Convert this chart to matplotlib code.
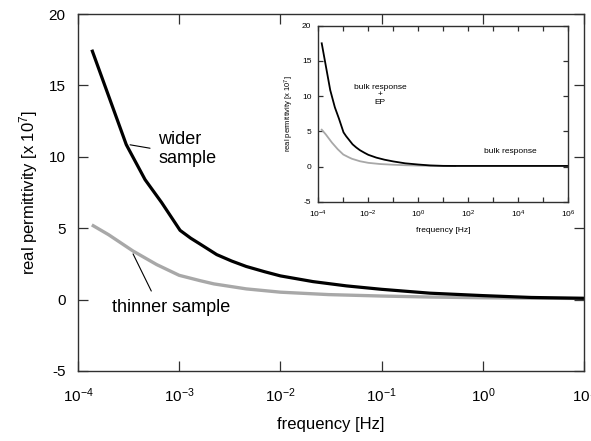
import numpy as np
import matplotlib
matplotlib.use("Agg")
import matplotlib.pyplot as plt
from matplotlib.ticker import FixedLocator, NullLocator, FuncFormatter

plt.rcParams['font.family'] = ['Liberation Sans', 'DejaVu Sans']
plt.rcParams['mathtext.fontset'] = 'custom'
plt.rcParams['mathtext.rm'] = 'Liberation Sans'
plt.rcParams['mathtext.it'] = 'Liberation Sans'
plt.rcParams['axes.unicode_minus'] = False

# ---- data ----
wide_freq = [1.37e-4, 3.0e-4, 4.6e-4, 6.7e-4, 1.02e-3, 1.3e-3, 1.6e-3, 2.35e-3,
             3.3e-3, 4.6e-3, 7e-3, 1e-2, 2.1e-2, 4.5e-2, 0.1, 0.3, 1.0, 3.0, 10.0]
wide_val = [17.5, 10.85, 8.4, 6.8, 4.85, 4.3, 3.9, 3.15,
            2.7, 2.32, 1.95, 1.66, 1.26, 0.96, 0.72, 0.45, 0.28, 0.15, 0.09]

thin_freq = [1.37e-4, 2.0e-4, 3.5e-4, 6.0e-4, 1e-3, 1.6e-3, 2.2e-3, 4.6e-3,
             1e-2, 3e-2, 0.1, 0.3, 1.0, 3.0, 10.0]
thin_val = [5.23, 4.55, 3.4, 2.45, 1.7, 1.33, 1.1, 0.75,
            0.52, 0.35, 0.25, 0.18, 0.13, 0.10, 0.08]

# inset continuation beyond 10 Hz
wide_ext_freq = [30.0, 1e2, 1e3, 1e4, 1e5, 1e6]
wide_ext_val = [0.08, 0.08, 0.08, 0.08, 0.08, 0.08]
thin_ext_freq = [30.0]
thin_ext_val = [0.07]

main_yticks = [-5, 0, 5, 10, 15, 20]
main_xticks = [1e-4, 1e-3, 1e-2, 1e-1, 1e0, 1e1]
inset_xticks = [10.0 ** k for k in range(-4, 7)]

W, H = 591, 441
fig = plt.figure(figsize=(W / 100, H / 100), dpi=100)

def px_axes(l, t, r, b):
    return fig.add_axes([l / W, 1 - b / H, (r - l) / W, (b - t) / H])

spine_col = '#303030'
black = '#000000'
gray = '#a8a8a8'

# ---- main axes ----
ax = px_axes(78, 14, 584, 371)
ax.set_xscale('log')
ax.plot(thin_freq, thin_val, color=gray, lw=2.4, solid_capstyle='butt')
ax.plot(wide_freq, wide_val, color=black, lw=2.3, solid_capstyle='butt')
ax.set_xlim(1e-4, 10)
ax.set_ylim(-5, 20)
ax.xaxis.set_major_locator(FixedLocator(main_xticks))
ax.xaxis.set_minor_locator(NullLocator())
ax.set_yticks(main_yticks)
ax.xaxis.set_major_formatter(FuncFormatter(lambda v, p: r'$10^{%d}$' % round(np.log10(v))))
ax.tick_params(direction='in', length=7, width=0.9, top=True, right=True,
               labelsize=11, color=spine_col, pad=9)
ax.tick_params(axis='x', pad=11)
for s in ax.spines.values():
    s.set_color(spine_col)
    s.set_linewidth(1.0)
ax.set_xlabel('frequency [Hz]', fontsize=12, labelpad=9)
ax.set_ylabel(r'real permittivity [x 10$^7$]', fontsize=12, labelpad=6)

# annotations
ax.annotate('', xy=(3.27e-4, 10.84), xytext=(5.15e-4, 10.6),
            arrowprops=dict(arrowstyle='-', color=black, lw=0.8, shrinkA=0, shrinkB=0))
ax.text(6.2e-4, 10.56, 'wider\nsample', fontsize=13, ha='left', va='center',
        linespacing=1.15)
ax.annotate('', xy=(3.5e-4, 3.2), xytext=(5.3e-4, 0.6),
            arrowprops=dict(arrowstyle='-', color=black, lw=0.8, shrinkA=0, shrinkB=0))
ax.text(2.17e-4, -0.52, 'thinner sample', fontsize=13, ha='left', va='center')

# ---- inset axes ----
ins = px_axes(318.3, 25.7, 568.3, 201.7)
ins.set_xscale('log')
ins.plot(thin_freq + thin_ext_freq, thin_val + thin_ext_val, color=gray, lw=1.3)
ins.plot(wide_freq + wide_ext_freq, wide_val + wide_ext_val, color=black, lw=1.3)
ins.set_xlim(1e-4, 1e6)
ins.set_ylim(-5, 20)
ins.xaxis.set_major_locator(FixedLocator(inset_xticks))
ins.xaxis.set_minor_locator(NullLocator())
ins.set_yticks(main_yticks)

def ins_fmt(v, p):
    k = round(np.log10(v))
    return r'$10^{%d}$' % k if k % 2 == 0 else ''

ins.xaxis.set_major_formatter(FuncFormatter(ins_fmt))
ins.tick_params(direction='in', length=3.5, width=0.9, top=True, right=True,
                labelsize=6, color=spine_col, pad=5)
for s in ins.spines.values():
    s.set_color(spine_col)
    s.set_linewidth(1.0)
ins.set_xlabel('frequency [Hz]', fontsize=6, labelpad=5)
ins.set_ylabel(r'real permittivity [x 10$^7$]', fontsize=5.5, labelpad=4)
ins.text(10 ** -1.53, 10.16, 'bulk response\n+\nEP', fontsize=6, ha='center',
         va='center', linespacing=1.1)
ins.text(10 ** 3.67, 2.06, 'bulk response', fontsize=6, ha='center', va='center')

fig.savefig('out.png', dpi=100)
